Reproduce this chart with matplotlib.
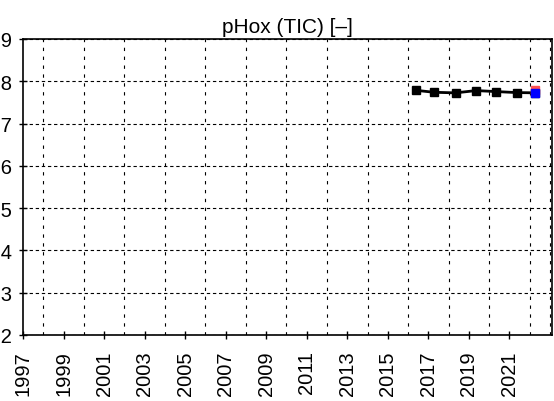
import matplotlib

matplotlib.use("Agg")
import matplotlib.pyplot as plt
from matplotlib.ticker import MultipleLocator

plt.rcParams["font.family"] = ["Liberation Sans", "DejaVu Sans"]

# yearly values (black), plus the latest points in red / blue
years = [2016.37, 2017.28, 2018.34, 2019.35, 2020.33, 2021.35, 2022.26]
phox = [7.7787, 7.7740, 7.7726, 7.7780, 7.7757, 7.7733, 7.7727]
red_x = [2022.26]
red_y = [7.7795]
blue_x = [2022.26]
blue_y = [7.7727]

xticks = list(range(1997, 2022, 2))
yticks = [7.2, 7.3, 7.4, 7.5, 7.6, 7.7, 7.8, 7.9]

fig = plt.figure(figsize=(5.54, 4.02), dpi=100)
ax = fig.add_axes([0.0415, 0.1642, 0.9549, 0.7363])

ax.plot(years, phox, color="black", lw=2, marker="s", ms=6, zorder=3)
ax.plot(red_x, red_y, ls="none", marker="s", ms=6, color="#ff5050", mec="#ff5050", zorder=4)
ax.plot(blue_x, blue_y, ls="none", marker="s", ms=6, color="blue", mec="blue", zorder=5)

ax.set_xlim(1997, 2023.1)
ax.set_ylim(7.2, 7.9)
ax.set_xticks(xticks)
ax.set_xticklabels([str(y) for y in xticks], rotation=90)
ax.xaxis.set_minor_locator(MultipleLocator(1))
ax.set_yticks(yticks)
ax.set_yticklabels([f"{v:.1f}" for v in yticks])

ax.grid(axis="y", which="major", color="black", ls=(0, (3, 2.5)), lw=0.8)
ax.grid(axis="x", which="minor", color="black", ls=(0, (3, 5)), lw=0.8)
ax.tick_params(axis="both", which="major", direction="inout", length=6, width=1,
               labelsize=14.5)
ax.tick_params(axis="x", which="major", pad=8)
ax.tick_params(axis="y", which="major", pad=5)
ax.tick_params(axis="x", which="minor", length=0)
for s in ax.spines.values():
    s.set_linewidth(1.2)

ax.set_title("pHox (TIC) [–]", fontsize=15, pad=5)

fig.savefig("out.png", dpi=100)
